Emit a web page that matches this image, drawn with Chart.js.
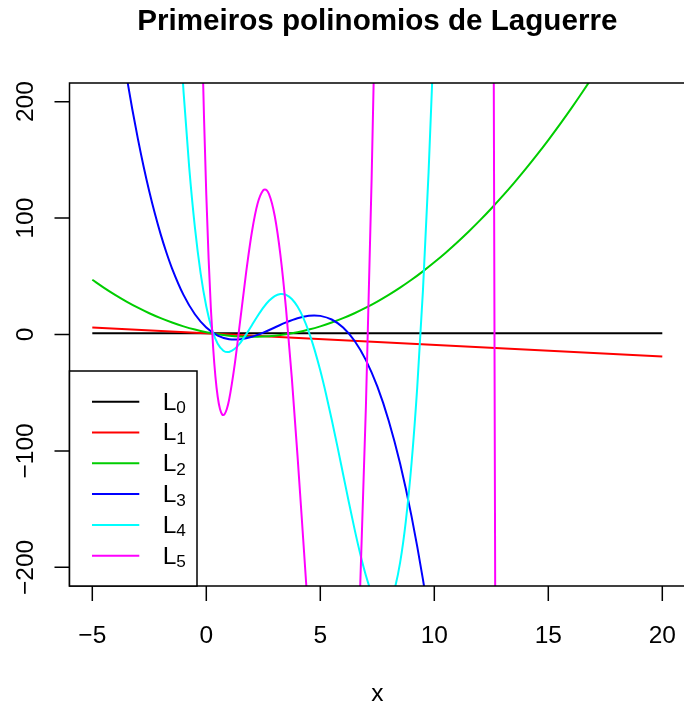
<!DOCTYPE html>
<html>
<head>
<meta charset="utf-8">
<script src="https://cdn.jsdelivr.net/npm/chart.js@4.4.0/dist/chart.umd.min.js"></script>
<style>
html,body{margin:0;padding:0;overflow:hidden;background:#fff;width:684px;height:705px}
canvas{display:block}
</style>
</head>
<body>
<canvas id="c" width="690" height="705"></canvas>
<script>
// ---- data ----
const chartTitle = 'Primeiros polinomios de Laguerre';
const xAxisTitle = 'x';
const xTicks = [-5, 0, 5, 10, 15, 20];
const yTicks = [-200, -100, 0, 100, 200];
const seriesNames = ['0', '1', '2', '3', '4', '5'];
const seriesColors = ['#000000', '#FF0000', '#00CD00', '#0000FF', '#00FFFF', '#FF00FF'];

const l0X = [-5, 20];
const l0Y = [1, 1];

const l1X = [-5, 20];
const l1Y = [6, -19];

const l2X = [-5, -4.5, -4, -3.5, -3, -2.5, -2, -1.5, -1, -0.5, 0, 0.5, 1, 1.5, 2, 2.5, 3, 3.5, 4, 4.5,
  5, 5.5, 6, 6.5, 7, 7.5, 8, 8.5, 9, 9.5, 10, 10.5, 11, 11.5, 12, 12.5, 13, 13.5, 14, 14.5,
  15, 15.5, 16, 16.5, 17];
const l2Y = [47, 40.25, 34, 28.25, 23, 18.25, 14, 10.25, 7, 4.25, 2, 0.25, -1, -1.75, -2, -1.75, -1, 0.25, 2, 4.25,
  7, 10.25, 14, 18.25, 23, 28.25, 34, 40.25, 47, 54.25, 62, 70.25, 79, 88.25, 98, 108.25, 119, 130.25, 142, 154.25,
  167, 180.25, 194, 208.25, 223];

const l3X = [-3.5, -3.25, -3, -2.75, -2.5, -2.25, -2, -1.75, -1.5, -1, -0.5, 0, 0.5, 1, 1.268, 1.5, 2, 2.5, 3, 3.5,
  4, 4.5, 4.732, 5, 5.5, 6, 6.5, 7, 7.5, 8, 8.5, 9, 9.5, 10];
const l3Y = [222.13, 193.89, 168, 144.36, 122.88, 103.45, 86, 70.42, 56.63, 34, 17.38, 6, -0.88, -4, -4.39, -4.13, -2, 1.63, 6, 10.38,
  14, 16.13, 16.39, 16, 12.88, 6, -5.38, -22, -44.63, -74, -110.88, -156, -210.13, -274];

const l4X = [-1.25, -1, -0.75, -0.5, -0.25, 0, 0.25, 0.5, 0.75, 0.9358, 1, 1.25, 1.5, 1.75, 2, 2.25, 2.5, 2.75, 3, 3.25,
  3.3054, 3.5, 3.75, 4, 4.25, 4.5, 4.75, 5, 5.25, 5.5, 5.75, 6, 6.25, 6.5, 6.75, 7, 7.25, 7.5, 7.7588, 8,
  8.25, 8.5, 8.75, 9, 9.25, 9.5, 9.75, 10];
const l4Y = [290.19, 209, 143.57, 92.06, 52.75, 24, 4.25, -7.94, -13.93, -15.13, -15, -12.31, -6.94, 0.13, 8, 15.88, 23.06, 28.94, 33, 34.82,
  34.88, 34.06, 30.5, 24, 14.5, 2.06, -13.18, -31, -51.06, -72.94, -96.12, -120, -143.87, -166.94, -188.31, -207, -221.93, -231.94, -235.75, -232,
  -219.25, -195.94, -160.43, -111, -45.81, 37.06, 139.63, 264];

const l5X = [-0.2, -0.1, 0, 0.1, 0.2, 0.3, 0.4, 0.5, 0.6, 0.7, 0.7433, 0.8, 0.9, 1, 1.25, 1.5, 1.75, 2, 2.25, 2.5,
  2.5716, 2.75, 3, 3.25, 3.5, 3.75, 4, 4.25, 4.5, 4.75, 5, 5.5, 6, 6.5, 6.75, 7, 7.25, 7.5, 8, 9,
  10, 11, 12, 12.5, 12.6, 12.7, 12.75, 13];
const l5Y = [265.64, 186.2, 120, 65.8, 22.44, -11.2, -36.17, -53.47, -64.04, -68.77, -69.21, -68.49, -63.99, -56, -25.14, 13.97, 53.68, 88, 112.43, 123.91,
  124.52, 120.63, 102, 68.44, 21.34, -37.1, -104, -175.86, -248.72, -318.28, -380, -461.28, -456, -331.34, -215.94, -62, 132.87, 366.09, 952, 2496,
  4120, 4894, 3288, 920.78, 279.55, -424.69, -801.44, -2948];

const seriesX = [l0X, l1X, l2X, l3X, l4X, l5X];
const seriesY = [l0Y, l1Y, l2Y, l3Y, l4Y, l5Y];

// ---- drawing ----
const FONT = '"Liberation Sans", Arial, Helvetica, sans-serif';
const fmt = v => (v < 0 ? '\u2212' + Math.abs(v) : String(v));

const datasets = seriesX.map((xs, i) => ({
  label: 'L' + seriesNames[i],
  data: xs.map((x, k) => ({ x: x, y: seriesY[i][k] })),
  borderColor: seriesColors[i],
  backgroundColor: seriesColors[i],
  borderWidth: 2,
  pointRadius: 0,
  fill: false,
  cubicInterpolationMode: 'monotone',
  capBezierPoints: false,
  clip: 0,
  order: seriesX.length - i
}));

const decor = {
  id: 'decor',
  afterDatasetsDraw(chart) {
    const ctx = chart.ctx, a = chart.chartArea;
    const xs = chart.scales.x, ys = chart.scales.y;
    ctx.save();
    ctx.strokeStyle = '#000';
    ctx.lineWidth = 1.5;
    ctx.strokeRect(a.left, a.top, a.right - a.left, a.bottom - a.top);
    ctx.beginPath();
    xTicks.forEach(v => {
      const p = xs.getPixelForValue(v);
      ctx.moveTo(p, a.bottom); ctx.lineTo(p, a.bottom + 15);
    });
    yTicks.forEach(v => {
      const p = ys.getPixelForValue(v);
      ctx.moveTo(a.left, p); ctx.lineTo(a.left - 15, p);
    });
    ctx.stroke();

    ctx.fillStyle = '#000';
    ctx.font = '24.5px ' + FONT;
    ctx.textAlign = 'center';
    ctx.textBaseline = 'alphabetic';
    xTicks.forEach(v => ctx.fillText(fmt(v), xs.getPixelForValue(v), 643));
    yTicks.forEach(v => {
      ctx.save();
      ctx.translate(33, ys.getPixelForValue(v));
      ctx.rotate(-Math.PI / 2);
      ctx.fillText(fmt(v), 0, 0);
      ctx.restore();
    });
    const cx = (a.left + a.right) / 2;
    ctx.fillText(xAxisTitle, cx, 701);

    ctx.font = 'bold 29.6px ' + FONT;
    ctx.fillText(chartTitle, cx, 30);

    // legend
    const lx = a.left, ly = 371, lw = 127.5, lh = a.bottom - 371;
    ctx.fillStyle = '#fff';
    ctx.fillRect(lx, ly, lw, lh);
    ctx.lineWidth = 1.5;
    ctx.strokeStyle = '#000';
    ctx.strokeRect(lx, ly, lw, lh);
    seriesNames.forEach((name, i) => {
      const yc = 401.7 + i * 30.8;
      ctx.strokeStyle = seriesColors[i];
      ctx.lineWidth = 2;
      ctx.beginPath();
      ctx.moveTo(92, yc); ctx.lineTo(139.3, yc);
      ctx.stroke();
      ctx.fillStyle = '#000';
      ctx.textAlign = 'left';
      ctx.font = '24.5px ' + FONT;
      ctx.fillText('L', 162.7, yc + 7.8);
      const w = ctx.measureText('L').width;
      ctx.font = '17.2px ' + FONT;
      ctx.fillText(name, 162.7 + w, yc + 11.5);
    });
    ctx.restore();
  }
};

new Chart(document.getElementById('c'), {
  type: 'line',
  data: { datasets: datasets },
  options: {
    responsive: false,
    animation: false,
    devicePixelRatio: 1,
    parsing: true,
    layout: { padding: { left: 69.5, right: 4.9, top: 83, bottom: 119 } },
    scales: {
      x: { type: 'linear', min: -6, max: 21, display: false },
      y: { type: 'linear', min: -216, max: 216, display: false }
    },
    plugins: { legend: { display: false }, title: { display: false }, tooltip: { enabled: false } }
  },
  plugins: [decor]
});
</script>
</body>
</html>
